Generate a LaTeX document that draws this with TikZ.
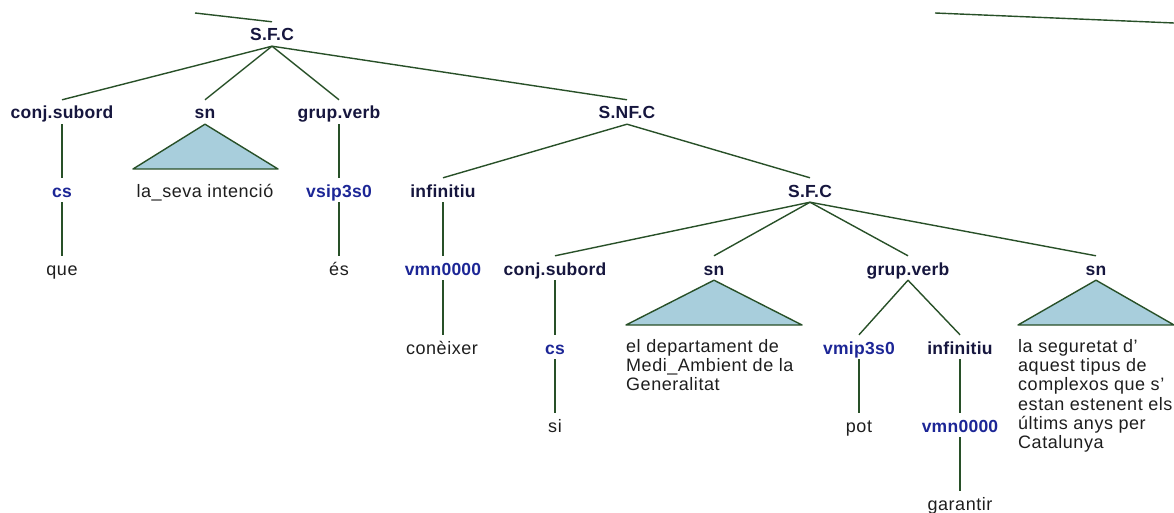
\documentclass[tikz,border=0pt]{standalone}
\usepackage{fontspec}
\setmainfont{Liberation Sans}
\newfontfamily\catfont{Liberation Sans Bold}[LetterSpace=1.5]
\newfontfamily\leaffont{Liberation Sans}[LetterSpace=3]
\definecolor{edgegreen}{RGB}{40,80,40}
\definecolor{catnavy}{RGB}{22,22,62}
\definecolor{tagblue}{RGB}{28,38,150}
\definecolor{trifill}{RGB}{168,206,220}
\definecolor{leafgray}{RGB}{30,30,30}
\tikzset{
  cat/.style={font=\catfont\fontsize{17.5}{20}\selectfont, text=catnavy, inner sep=0pt,
    minimum height=24pt, text height=15pt, text depth=1pt},
  tag/.style={cat, text=tagblue},
  word/.style={font=\leaffont\fontsize{18}{19.3}\selectfont, text=leafgray, inner sep=0pt,
    minimum height=24pt, text height=15pt, text depth=1pt},
  para/.style={font=\leaffont\fontsize{18}{19.3}\selectfont, text=leafgray, inner sep=0pt,
    align=left, anchor=north west},
  edge/.style={draw=edgegreen, line width=1.4pt},
  tri/.style={draw=edgegreen, line width=1.4pt, fill=trifill, line join=round}
}
\begin{document}
\begin{tikzpicture}[x=1pt,y=-1pt]
\useasboundingbox (0,0) rectangle (1174,513);
% level 1
\node[cat] (sfc) at (272,34) {S.F.C};
\coordinate (upL) at (195,13);
\coordinate (upR) at (935,13);
\coordinate (offR) at (1174,23);
% level 2
\node[cat] (cj1) at (62,112) {conj.subord};
\node[cat] (sn1) at (205,112) {sn};
\node[cat] (gv1) at (339,112) {grup.verb};
\node[cat] (snfc) at (627,112) {S.NF.C};
% level 3
\node[tag] (cs1) at (62,190) {cs};
\node[word] (sn1leaf) at (205,190) {la\_seva intenció};
\node[tag] (vsip) at (339,190) {vsip3s0};
\node[cat] (inf1) at (443,190) {infinitiu};
\node[cat] (sfc2) at (810,190) {S.F.C};
% level 4
\node[word] (que) at (62,268) {que};
\node[word] (es) at (339,268) {és};
\node[tag] (vmn1) at (443,268) {vmn0000};
\node[cat] (cj2) at (555,268) {conj.subord};
\node[cat] (sn2) at (714,268) {sn};
\node[cat] (gv2) at (908,268) {grup.verb};
\node[cat] (sn3) at (1096,268) {sn};
% level 5
\node[word] (coneixer) at (442,347) {conèixer};
\node[tag] (cs2) at (555,347) {cs};
\node[para] (sn2leaf) at (626,339) {el departament de\\Medi\_Ambient de la\\Generalitat};
\node[tag] (vmip) at (859,347) {vmip3s0};
\node[cat] (inf2) at (960,347) {infinitiu};
\node[para] (sn3leaf) at (1018,339) {la seguretat d’\\aquest tipus de\\complexos que s’\\estan estenent els\\últims anys per\\Catalunya};
% level 6
\node[word] (si) at (555,425) {si};
\node[word] (pot) at (859,425) {pot};
\node[tag] (vmn2) at (960,425) {vmn0000};
% level 7
\node[word] (garantir) at (960,503) {garantir};
% triangles
\draw[tri] (sn1.south) -- (133,169) -- (278,169) -- cycle;
\draw[tri] (sn2.south) -- (626,325) -- (802,325) -- cycle;
\draw[tri] (sn3.south) -- (1018,325) -- (1174,325) -- cycle;
% edges
\draw[edge] (upL) -- (sfc.north);
\draw[edge] (upR) -- (offR);
\draw[edge] (sfc.south) -- (cj1.north);
\draw[edge] (sfc.south) -- (sn1.north);
\draw[edge] (sfc.south) -- (gv1.north);
\draw[edge] (sfc.south) -- (snfc.north);
\draw[edge] (cj1.south) -- (cs1.north);
\draw[edge] (cs1.south) -- (que.north);
\draw[edge] (gv1.south) -- (vsip.north);
\draw[edge] (vsip.south) -- (es.north);
\draw[edge] (snfc.south) -- (inf1.north);
\draw[edge] (snfc.south) -- (sfc2.north);
\draw[edge] (inf1.south) -- (vmn1.north);
\draw[edge] (vmn1.south) -- (vmn1.south |- coneixer.north);
\draw[edge] (sfc2.south) -- (cj2.north);
\draw[edge] (sfc2.south) -- (sn2.north);
\draw[edge] (sfc2.south) -- (gv2.north);
\draw[edge] (sfc2.south) -- (sn3.north);
\draw[edge] (cj2.south) -- (cs2.north);
\draw[edge] (cs2.south) -- (si.north);
\draw[edge] (gv2.south) -- (vmip.north);
\draw[edge] (gv2.south) -- (inf2.north);
\draw[edge] (vmip.south) -- (pot.north);
\draw[edge] (inf2.south) -- (vmn2.north);
\draw[edge] (vmn2.south) -- (garantir.north);
\end{tikzpicture}
\end{document}
